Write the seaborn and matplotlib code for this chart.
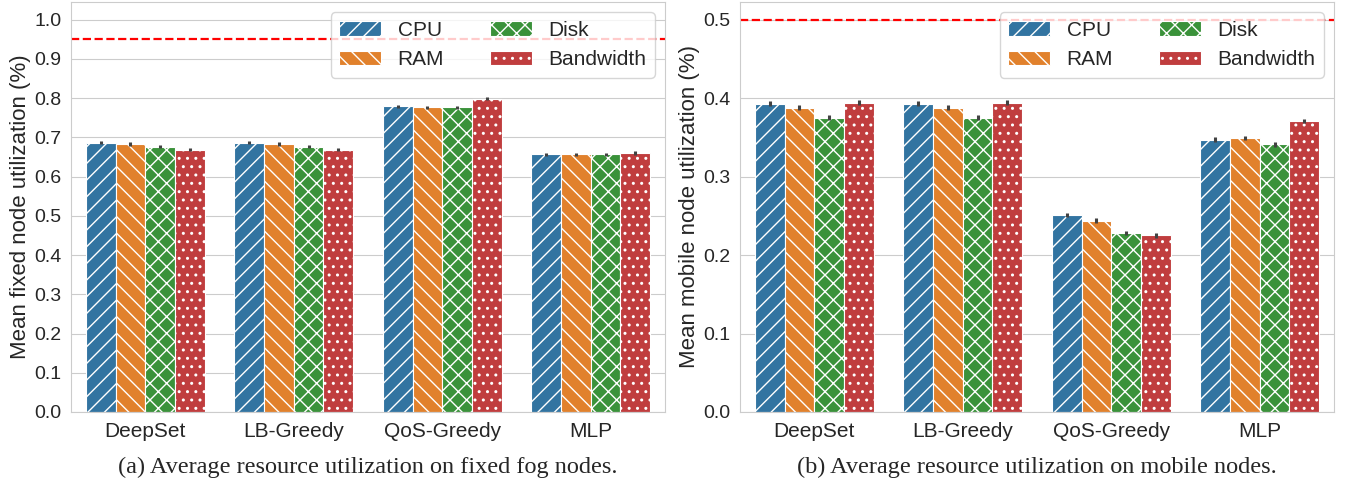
import numpy as np
import pandas as pd
import matplotlib
matplotlib.use("Agg")
import matplotlib.pyplot as plt
import seaborn as sns

methods = ["DeepSet", "LB-Greedy", "QoS-Greedy", "MLP"]
resources = ["CPU", "RAM", "Disk", "Bandwidth"]

# fixed fog nodes (per method)
fixed_cpu = [0.686, 0.686, 0.779, 0.657]
fixed_ram = [0.683, 0.683, 0.777, 0.657]
fixed_disk = [0.676, 0.676, 0.777, 0.657]
fixed_bw = [0.668, 0.668, 0.798, 0.660]
fixed_err = [0.004, 0.004, 0.004, 0.004]

# mobile nodes
mobile_cpu = [0.393, 0.393, 0.251, 0.347]
mobile_ram = [0.388, 0.388, 0.244, 0.349]
mobile_disk = [0.375, 0.375, 0.228, 0.341]
mobile_bw = [0.394, 0.394, 0.225, 0.371]
mobile_err = [0.003, 0.003, 0.003, 0.003]

fixed_threshold = 0.95
mobile_threshold = 0.5

hatches = ["//", "\\\\", "xx", ".."]

sns.set_style("whitegrid")
plt.rcParams["font.family"] = ["Liberation Sans", "DejaVu Sans"]
plt.rcParams["hatch.color"] = "white"


def make_df(cpu, ram, disk, bw):
    rows = []
    for name, vals in zip(resources, [cpu, ram, disk, bw]):
        for m, v in zip(methods, vals):
            rows.append({"method": m, "resource": name, "value": v})
    return pd.DataFrame(rows)


def draw(ax, df, err, thr, ylim, ylabel, ystep):
    sns.barplot(data=df, x="method", y="value", hue="resource",
                order=methods, hue_order=resources, errorbar=None,
                palette="tab10", saturation=0.75, width=0.8,
                edgecolor="white", linewidth=0.8, legend=False, ax=ax)
    for cont, h in zip(ax.containers, hatches):
        for p in cont.patches:
            p.set_hatch(h)
    xs, ys, es = [], [], []
    for cont in ax.containers:
        for p, e in zip(cont.patches, err):
            xs.append(p.get_x() + p.get_width() / 2)
            ys.append(p.get_height())
            es.append(e)
    ax.errorbar(xs, ys, yerr=es, fmt="none", ecolor=".26", elinewidth=2.2,
                capsize=0, zorder=3)
    ax.axhline(thr, color="red", ls="--", lw=1.6, zorder=2)
    ax.set_xlim(-0.5, len(methods) - 0.5)
    ax.set_ylim(*ylim)
    ax.set_yticks(np.arange(0, ylim[1], ystep))
    ax.set_xlabel("")
    ax.set_ylabel(ylabel, fontsize=16, labelpad=2)
    ax.tick_params(axis="y", labelsize=14)
    ax.tick_params(axis="x", labelsize=15)
    for s in ax.spines.values():
        s.set_color("#cccccc")
    ax.legend(handles=ax.containers, labels=resources, ncol=2,
              loc="upper right", fontsize=15, columnspacing=2.2,
              borderaxespad=0.5, handletextpad=0.8)


fig = plt.figure(figsize=(13.45, 4.87), dpi=100)
ax1 = fig.add_axes([71 / 1345, 1 - 412 / 487, (665 - 71) / 1345, 410 / 487])
ax2 = fig.add_axes([740 / 1345, 1 - 412 / 487, (1334 - 740) / 1345, 410 / 487])

draw(ax1, make_df(fixed_cpu, fixed_ram, fixed_disk, fixed_bw), fixed_err,
     fixed_threshold, (0, 1.045), "Mean fixed node utilization (%)", 0.1)
draw(ax2, make_df(mobile_cpu, mobile_ram, mobile_disk, mobile_bw), mobile_err,
     mobile_threshold, (0, 0.5225), "Mean mobile node utilization (%)", 0.1)

cap_font = dict(family=["Liberation Serif", "DejaVu Serif"], fontsize=17.5,
                ha="center", va="center")
fig.text((71 + 665) / 2 / 1345, 1 - 467 / 487,
         "(a) Average resource utilization on fixed fog nodes.", **cap_font)
fig.text((740 + 1334) / 2 / 1345, 1 - 467 / 487,
         "(b) Average resource utilization on mobile nodes.", **cap_font)

fig.savefig("out.png", dpi=100)
